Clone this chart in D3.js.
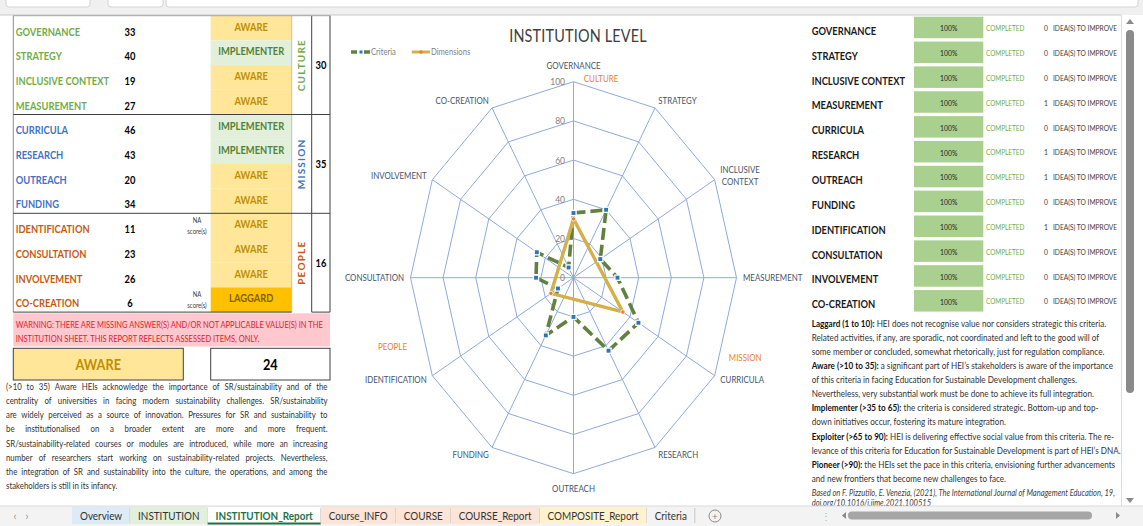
<!DOCTYPE html>
<html><head><meta charset="utf-8">
<script src="https://cdn.jsdelivr.net/npm/d3@7"></script>
<style>html,body{margin:0;padding:0;background:#fff;overflow:hidden}svg{display:block}</style>
</head><body>
<svg id="c" width="1143" height="526"></svg>
<script>
// ---------------- DATA ----------------
const criteria = ["GOVERNANCE","STRATEGY","INCLUSIVE CONTEXT","MEASUREMENT","CURRICULA","RESEARCH","OUTREACH","FUNDING","IDENTIFICATION","CONSULTATION","INVOLVEMENT","CO-CREATION"];
const scores = [33,40,19,27,46,43,20,34,11,23,26,6];
const levels = ["AWARE","IMPLEMENTER","AWARE","AWARE","IMPLEMENTER","IMPLEMENTER","AWARE","AWARE","AWARE","AWARE","AWARE","LAGGARD"];
const naScore = [0,0,0,0,0,0,0,0,1,0,0,1];
const dimOf = [0,0,0,0,1,1,1,1,2,2,2,2];
const dimensions = ["CULTURE","MISSION","PEOPLE"];
const dimScores = [30,35,16];
const dimAxis = [0,4,8];
const completion = [100,100,100,100,100,100,100,100,100,100,100,100];
const ideas = [0,0,0,1,0,1,1,0,1,0,0,0];
const overallLevel = "AWARE";
const overallScore = 24;
const radarTicks = [0,20,40,60,80,100];
const sheetTabs = ["Overview","INSTITUTION","INSTITUTION_Report","Course_INFO","COURSE","COURSE_Report","COMPOSITE_Report","Criteria"];
const activeTab = "INSTITUTION_Report";

const warningLines = ["WARNING: THERE ARE MISSING ANSWER(S) AND/OR NOT APPLICABLE VALUE(S) IN THE","INSTITUTION SHEET. THIS REPORT REFLECTS ASSESSED ITEMS, ONLY."];
const levelDescLines = [
 "(>10 to 35) Aware HEIs acknowledge the importance of SR/sustainability and of the",
 "centrality of universities in facing modern sustainability challenges. SR/sustainability",
 "are widely perceived as a source of innovation. Pressures for SR and sustainability to",
 "be institutionalised on a broader extent are more and more frequent.",
 "SR/sustainability-related courses or modules are introduced, while more an increasing",
 "number of researchers start working on sustainability-related projects. Nevertheless,",
 "the integration of SR and sustainability into the culture, the operations, and among the",
 "stakeholders is still in its infancy."];
const legendLines = [
 ["Laggard (1 to 10):"," HEI does not recognise value nor considers strategic this criteria."],
 ["","Related activities, if any, are sporadic, not coordinated and left to the good will of"],
 ["","some member or concluded, somewhat rhetorically, just for regulation compliance."],
 ["Aware (>10 to 35):"," a significant part of HEI\u2019s stakeholders is aware of the importance"],
 ["","of this criteria in facing Education for Sustainable Development challenges."],
 ["","Nevertheless, very substantial work must be done to achieve its full integration."],
 ["Implementer (>35 to 65):"," the criteria is considered strategic. Bottom-up and top-"],
 ["","down initiatives occur, fostering its mature integration."],
 ["Exploiter (>65 to 90):"," HEI is delivering effective social value from this criteria. The re-"],
 ["","levance of this criteria for Education for Sustainable Development is part of HEI\u2019s DNA."],
 ["Pioneer (>90):"," the HEIs set the pace in this criteria, envisioning further advancements"],
 ["","and new frontiers that become new challenges to face."]];
const citeLines = ["Based on F. Pizzutilo, E. Venezia, (2021), The International Journal of Management Education, 19,","doi.org/10.1016/j.ijme.2021.100515"];

// ---------------- STYLE ----------------
const levelStyle = {AWARE:{fill:"#ffe699",text:"#bf8f00"},IMPLEMENTER:{fill:"#e2efda",text:"#548235"},LAGGARD:{fill:"#ffc000",text:"#7f6000"}};
const dimColor = ["#70ad47","#4472c4","#c55a11"];
const FONT = "Lato, 'Open Sans', sans-serif";
const SX = 0.85;

const svg = d3.select("#c");
function T(g, x, y, s, o = {}) {
  const sx = o.sx ?? SX;
  const t = g.append("text")
    .attr("transform", `translate(${x},${y}) scale(${sx},1)` + (o.rot ? ` rotate(${o.rot})` : ""))
    .attr("dy", o.dy ?? "0.35em")
    .attr("text-anchor", o.anchor || "start")
    .style("font-family", o.family || FONT)
    .style("font-size", (o.size || 10) + "px")
    .style("font-weight", o.weight || "normal")
    .style("font-style", o.style || "normal")
    .attr("fill", o.fill || "#000")
    .text(s);
  if (o.ls) t.style("letter-spacing", o.ls + "px");
  return t;
}
function L(g, x1, y1, x2, y2, c, w) {
  return g.append("line").attr("x1", x1).attr("y1", y1).attr("x2", x2).attr("y2", y2)
    .attr("stroke", c || "#7f7f7f").attr("stroke-width", w || 1);
}

// ---------------- FRAME ----------------
const frame = svg.append("g");
frame.append("rect").attr("x", 0).attr("y", 0).attr("width", 1143).attr("height", 15).attr("fill", "#f0f0f0");
[[6, 90], [108, 163], [166, 1138]].forEach(([a, b]) =>
  frame.append("rect").attr("x", a).attr("y", -5).attr("width", b - a).attr("height", 12).attr("rx", 3)
    .attr("fill", "#fff").attr("stroke", "#d4d4d4"));
L(frame, 0, 15, 1121, 15, "#c8c8c8");

// ---------------- LEFT TABLE ----------------
const lt = svg.append("g");
const top0 = 15.7, rowH = 24.7;
const rowY = i => top0 + rowH * i;
criteria.forEach((c, i) => {
  const st = levelStyle[levels[i]];
  lt.append("rect").attr("x", 210.7).attr("y", rowY(i)).attr("width", 81).attr("height", rowH).attr("fill", st.fill);
  T(lt, 251.2, rowY(i) + rowH / 2 - 1.2, levels[i], {anchor: "middle", size: 11, weight: "bold", fill: st.text});
  T(lt, 15.7, rowY(i) + rowH / 2 + 3.6, c, {size: 11, weight: "bold", fill: dimColor[dimOf[i]]});
  T(lt, 130, rowY(i) + rowH / 2 + 3.6, scores[i], {anchor: "middle", size: 11, weight: "bold", fill: "#000"});
  if (naScore[i]) {
    T(lt, 197, rowY(i) + rowH / 2 - 5.5, "NA", {anchor: "middle", size: 7, fill: "#404040"});
    T(lt, 197, rowY(i) + rowH / 2 + 6, "score(s)", {anchor: "middle", size: 7, fill: "#404040"});
  }
});
// borders
L(lt, 291.7, top0, 291.7, rowY(12), "#bfbfbf");
L(lt, 13.3, top0, 13.3, rowY(12), "#8c8c8c");
L(lt, 311.7, top0, 311.7, rowY(12), "#404040");
L(lt, 330, top0, 330, rowY(12), "#404040");
L(lt, 13.3, top0, 330, top0, "#a6a6a6");
[4, 8].forEach(k => L(lt, 13.3, rowY(k), 330, rowY(k), "#404040"));
L(lt, 13.3, rowY(12), 291.7, rowY(12), "#404040");
L(lt, 311.7, rowY(12), 330, rowY(12), "#404040");
dimensions.forEach((d, k) => {
  const cy = rowY(4 * k + 2);
  T(lt, 301.7, cy, d, {anchor: "middle", size: 10, weight: "bold", fill: dimColor[k], rot: -90, ls: 1.2, sx: 1});
  T(lt, 321, cy, dimScores[k], {anchor: "middle", size: 11, weight: "bold"});
});

// warning
lt.append("rect").attr("x", 13.3).attr("y", 313.3).attr("width", 316.7).attr("height", 33.2).attr("fill", "#ffc7ce");
warningLines.forEach((w, i) => T(lt, 15.7, 324.3 + i * 14.7, w, {size: 9.6, fill: "#d9262b", sx: 0.785}));

// overall
lt.append("rect").attr("x", 13.3).attr("y", 348.3).attr("width", 170).attr("height", 31.7).attr("fill", levelStyle[overallLevel].fill).attr("stroke", "#404040");
T(lt, 98.3, 364.5, overallLevel, {anchor: "middle", size: 15, weight: "bold", fill: levelStyle[overallLevel].text});
lt.append("rect").attr("x", 210.7).attr("y", 348.3).attr("width", 119.3).attr("height", 31.7).attr("fill", "#fff").attr("stroke", "#404040");
T(lt, 270.3, 364.5, overallScore, {anchor: "middle", size: 15, weight: "bold"});

// justified description
(function () {
  const o = {size: 9.8, fill: "#333", sx: 0.8};
  const probe = T(lt, 0, 0, "a a", o), probe2 = T(lt, 0, 0, "aa", o);
  const sp = (probe.node().getComputedTextLength() - probe2.node().getComputedTextLength()) * o.sx;
  probe.remove(); probe2.remove();
  levelDescLines.forEach((line, li) => {
    const y = 386.7 + li * 14.1;
    const words = line.split(" ");
    const els = words.map(w => T(lt, 0, y, w, o));
    const ws = els.map(e => e.node().getComputedTextLength() * o.sx);
    const sum = d3.sum(ws);
    const x0 = 6, x1 = 327.5;
    const gap = (li < levelDescLines.length - 1 && words.length > 1) ? (x1 - x0 - sum) / (words.length - 1) : sp;
    let x = x0;
    els.forEach((e, i) => { e.attr("transform", `translate(${x},${y}) scale(${o.sx},1)`); x += ws[i] + gap; });
  });
})();

// ---------------- RADAR ----------------
const rg = svg.append("g");
const cx = 573.5, cy = 277.7;
const rX = d3.scaleLinear().domain([0, 100]).range([0, 163]);
const rY = d3.scaleLinear().domain([0, 100]).range([0, 196]);
const angle = d3.scaleLinear().domain([0, criteria.length]).range([0, 2 * Math.PI]);
const px = (i, v) => cx + rX(v) * Math.sin(angle(i));
const py = (i, v) => cy - rY(v) * Math.cos(angle(i));
const gridCol = "#8faadc";

radarTicks.filter(t => t > 0).forEach(t => {
  rg.append("path").attr("d", d3.line().curve(d3.curveLinearClosed)(criteria.map((c, i) => [px(i, t), py(i, t)])))
    .attr("fill", "none").attr("stroke", gridCol).attr("stroke-width", 1);
});
criteria.forEach((c, i) => L(rg, cx, cy, px(i, 100), py(i, 100), gridCol, 1));
radarTicks.forEach(t => T(rg, cx - 8.5, cy - rY(t), t, {anchor: "end", size: 10, fill: "#7f7f7f"}));

// axis labels
criteria.forEach((c, i) => {
  const a = angle(i), s = Math.sin(a), co = Math.cos(a);
  const ex = px(i, 100), ey = py(i, 100);
  const parts = c === "INCLUSIVE CONTEXT" ? ["INCLUSIVE", "CONTEXT"] : [c];
  const o = {size: 9.3, fill: "#44546a", sx: 0.85};
  const els = parts.map(p => T(rg, 0, 0, p, o));
  const hw = d3.max(els, e => e.node().getComputedTextLength()) * o.sx / 2;
  let lx, ly;
  if (Math.abs(s) < 0.01) { lx = ex; ly = ey - Math.sign(co) * 15.5; }
  else { lx = ex + s * 6.5 + Math.sign(s) * hw; ly = ey - co * 8; }
  els.forEach((e, k) => e.attr("text-anchor", "middle")
    .attr("transform", `translate(${lx},${ly + (k - (parts.length - 1) / 2) * 12}) scale(${o.sx},1)`));
});
// secondary (dimension) category labels, placed relative to their axis ends
const dimLabelOffset = [[27.5, -2.7], [30.5, -18.4], [-39.8, -28.7]];
dimensions.forEach((d, k) => {
  const i = dimAxis[k];
  T(rg, px(i, 100) + dimLabelOffset[k][0], py(i, 100) + dimLabelOffset[k][1], d, {anchor: "middle", size: 9.3, fill: "#ed7d31"});
});

// Criteria series
const critPts = criteria.map((c, i) => [px(i, scores[i]), py(i, scores[i])]);
const critCol = "#62813f";
rg.append("path").attr("d", d3.line().curve(d3.curveLinearClosed)(critPts))
  .attr("fill", "none").attr("stroke", critCol).attr("stroke-width", 3.6).attr("stroke-dasharray", "12,5");
// Dimensions series
const dimPts = dimensions.map((d, k) => [px(dimAxis[k], dimScores[k]), py(dimAxis[k], dimScores[k])]);
const dimCol = "#d4b04a";
rg.append("path").attr("d", d3.line().curve(d3.curveLinearClosed)(dimPts))
  .attr("fill", "none").attr("stroke", dimCol).attr("stroke-width", 3.4).attr("stroke-linejoin", "miter");
rg.selectAll(".cm").data(critPts).join("rect").attr("class", "cm")
  .attr("x", d => d[0] - 2.6).attr("y", d => d[1] - 2.6).attr("width", 5.2).attr("height", 5.2)
  .attr("fill", "#2e75b6").attr("stroke", "#fff").attr("stroke-width", 1.3);
rg.selectAll(".dm").data(dimPts).join("circle").attr("class", "dm")
  .attr("cx", d => d[0]).attr("cy", d => d[1]).attr("r", 2.2)
  .attr("fill", "#ed7d31").attr("stroke", "#fff").attr("stroke-width", 0.8);

// title + legend
T(rg, 578, 36, "INSTITUTION LEVEL", {anchor: "middle", size: 17, fill: "#404040", ls: 0.2});
L(rg, 351, 52, 370, 52, critCol, 3.4).attr("stroke-dasharray", "6,7");
rg.append("rect").attr("x", 359.5).attr("y", 50.5).attr("width", 3).attr("height", 3).attr("fill", "#2e75b6");
T(rg, 371, 52, "Criteria", {size: 9, fill: "#7f7f7f"});
L(rg, 411.7, 52, 430, 52, dimCol, 3);
rg.append("circle").attr("cx", 421).attr("cy", 52).attr("r", 1.8).attr("fill", "#ed7d31");
T(rg, 431, 52, "Dimensions", {size: 9, fill: "#7f7f7f"});

// ---------------- RIGHT TABLE ----------------
const rt = svg.append("g");
const rStep = 24.85;
criteria.forEach((c, i) => {
  const by = 16.7 + rStep * i;
  T(rt, 811.7, 31 + rStep * i, c, {size: 11, weight: "bold", fill: "#1a1a1a"});
  rt.append("rect").attr("x", 914).attr("y", by).attr("width", 69.3).attr("height", 21.5).attr("fill", "#a9d08e");
  T(rt, 948.7, by + 11.8, completion[i] + "%", {anchor: "middle", size: 8, fill: "#262626"});
  T(rt, 986, by + 11.6, "COMPLETED", {size: 8, fill: "#70ad47", sx: 0.8});
  T(rt, 1046, by + 11.6, ideas[i], {anchor: "middle", size: 8, fill: "#404040"});
  T(rt, 1053, by + 11.6, "IDEA(S) TO IMPROVE", {size: 8, fill: "#404040", sx: 0.83});
});
legendLines.forEach((ln, i) => {
  const t = T(rt, 811.7, 323.3 + 14.1 * i, "", {size: 9.8, fill: "#333", sx: 0.83});
  if (ln[0]) t.append("tspan").style("font-weight", "bold").attr("fill", "#111").text(ln[0]);
  t.append("tspan").text(ln[1]);
});
citeLines.forEach((c, i) => T(rt, 811.7, 492.7 + 10.6 * i, c, {size: 9, style: "italic", fill: "#404040", sx: 0.84}));

// ---------------- SCROLLBARS & TABS ----------------
const ui = svg.append("g");
L(ui, 1121.5, 15, 1121.5, 506, "#dcdcdc");
ui.append("path").attr("d", "M1126,24 L1130,19 L1134,24 Z").attr("fill", "#8a8a8a");
ui.append("rect").attr("x", 1126).attr("y", 30).attr("width", 8).attr("height", 363).attr("rx", 4).attr("fill", "#8a8a8a");
ui.append("path").attr("d", "M1126,498 L1130,503 L1134,498 Z").attr("fill", "#8a8a8a");

ui.append("rect").attr("x", 0).attr("y", 506).attr("width", 1143).attr("height", 20).attr("fill", "#f3f3f3");
L(ui, 0, 506, 1143, 506, "#dadada");
T(ui, 15, 516, "\u2039", {anchor: "middle", size: 12, fill: "#9a9a9a", sx: 1});
T(ui, 27, 516, "\u203A", {anchor: "middle", size: 12, fill: "#9a9a9a", sx: 1});
const tabFill = {"Overview": "#ddebf7", "INSTITUTION": "#e2efda", "INSTITUTION_Report": "#ffffff", "Course_INFO": "#fce4d6", "COURSE": "#fce4d6", "COURSE_Report": "#fce4d6", "COMPOSITE_Report": "#fff2cc", "Criteria": "#f3f3f3"};
const TSX = 0.9;
let tx = 72;
sheetTabs.forEach(name => {
  const act = name === activeTab;
  const g = ui.append("g");
  const r = g.append("rect").attr("y", 507).attr("height", 17).attr("fill", tabFill[name]);
  const t = T(g, 0, 516, name, {size: 11, weight: act ? "bold" : "normal", fill: act ? "#217346" : "#333", sx: TSX});
  const w = t.node().getComputedTextLength() * TSX + 16;
  r.attr("x", tx).attr("width", w);
  t.attr("transform", `translate(${tx + 8},516) scale(${TSX},1)`);
  L(g, tx + w, 508, tx + w, 523, "#c6c6c6");
  if (act) L(g, tx, 523.5, tx + w, 523.5, "#217346", 2);
  tx += w;
});
ui.append("circle").attr("cx", 715).attr("cy", 516).attr("r", 6).attr("fill", "none").attr("stroke", "#8a8a8a");
T(ui, 715, 516, "+", {anchor: "middle", size: 10, fill: "#8a8a8a", sx: 1});
T(ui, 826, 516, "\u22EE", {anchor: "middle", size: 10, fill: "#b0b0b0", sx: 1});
ui.append("path").attr("d", "M846,512 L842,515.5 L846,519 Z").attr("fill", "#8a8a8a");
ui.append("rect").attr("x", 848).attr("y", 511.5).attr("width", 244).attr("height", 8).attr("rx", 4).attr("fill", "#a6a6a6");
ui.append("path").attr("d", "M1116,512 L1120,515.5 L1116,519 Z").attr("fill", "#8a8a8a");
</script>
</body></html>
